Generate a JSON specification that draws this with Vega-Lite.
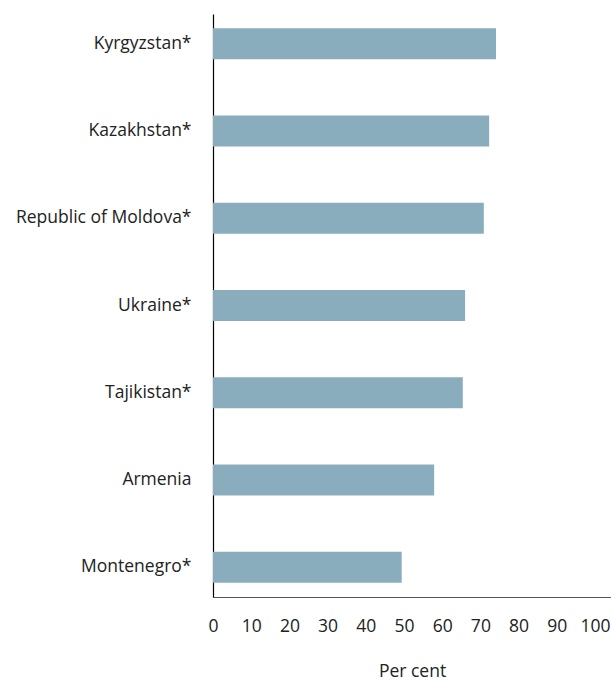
{
  "$schema": "https://vega.github.io/schema/vega-lite/v6.json",
  "width": 398,
  "height": 583,
  "padding": {"left": 15, "top": 14, "right": 0, "bottom": 0},
  "autosize": {"type": "pad"},
  "background": "white",
  "config": {
    "view": {"stroke": null},
    "font": "Open Sans",
    "axis": {"labelFont": "Open Sans", "titleFont": "Open Sans", "labelColor": "#222", "titleColor": "#222", "grid": false, "ticks": false}
  },
  "data": {
    "values": [
      {"country": "Kyrgyzstan*", "value": 74.1},
      {"country": "Kazakhstan*", "value": 72.3},
      {"country": "Republic of Moldova*", "value": 70.9},
      {"country": "Ukraine*", "value": 66.0},
      {"country": "Tajikistan*", "value": 65.4},
      {"country": "Armenia", "value": 57.9},
      {"country": "Montenegro*", "value": 49.4}
    ]
  },
  "mark": {"type": "bar", "color": "#8aadbe"},
  "encoding": {
    "y": {
      "field": "country",
      "type": "nominal",
      "sort": null,
      "scale": {"paddingInner": 0.645, "paddingOuter": 0.163},
      "axis": {"title": null, "labelFontSize": 17.5, "labelPadding": 22, "domainColor": "#000", "domainWidth": 1.2, "labelLimit": 300}
    },
    "x": {
      "field": "value",
      "type": "quantitative",
      "scale": {"domain": [0, 104.2], "nice": false},
      "axis": {"title": "Per cent", "values": [0, 10, 20, 30, 40, 50, 60, 70, 80, 90, 100], "labelFontSize": 17.5, "labelPadding": 20, "titleFontSize": 17.5, "titleFontWeight": "normal", "titlePadding": 28, "domainColor": "#555", "labelFlush": false}
    }
  }
}
